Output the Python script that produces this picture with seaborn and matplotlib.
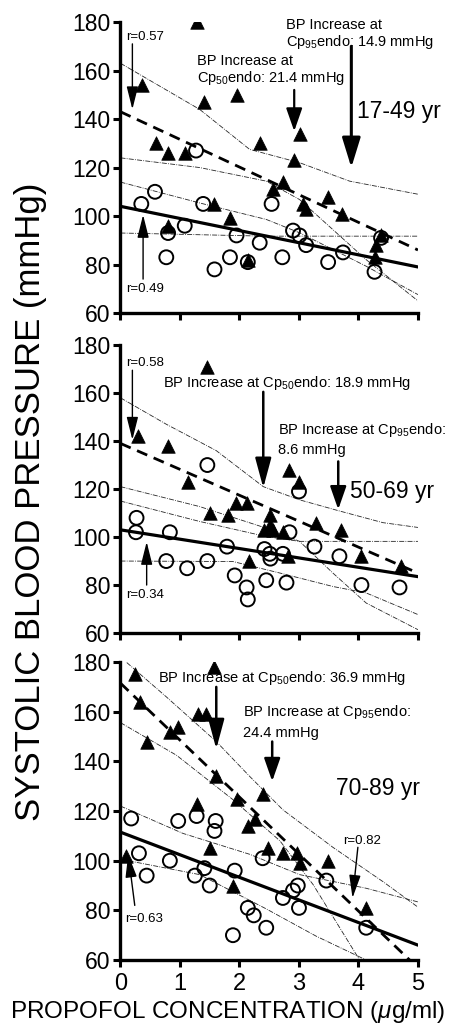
import matplotlib
matplotlib.use('Agg')
import matplotlib.pyplot as plt
import seaborn as sns

# ---- data ----
# panel 1 : 17-49 yr
p1_tri_x = [1.29, 0.36, 1.40, 1.95, 3.01, 0.59, 0.80, 1.08, 2.34, 2.92, 2.56, 2.73,
            3.49, 3.07, 3.12, 3.73, 1.58, 1.84, 0.80, 2.14, 4.38, 4.30, 4.27]
p1_tri_y = [180, 154, 147, 150, 134, 130, 126, 126, 130, 123, 111, 114,
            108, 105, 103, 101, 105, 99, 96, 82, 92, 88, 83]
p1_circ_x = [0.35, 0.58, 1.27, 0.80, 1.08, 0.77, 1.39, 1.58, 1.84, 1.95, 2.34, 2.14,
             2.72, 2.54, 2.90, 3.01, 3.12, 3.49, 3.74, 4.27, 4.38]
p1_circ_y = [105, 110, 127, 93, 96, 83, 105, 78, 83, 92, 89, 81,
             83, 105, 94, 92, 88, 81, 85, 77, 91]
p1_fit_x = [0, 5]
p1_fit_circ = [104, 79]
p1_fit_tri = [143, 86]
p1_ci = [
    ([0, 1.33, 2.17, 3.01, 3.85, 5], [163, 144, 127.5, 122, 114.4, 109]),
    ([0, 1.33, 2.45, 3.01, 3.57, 4.13, 5], [124, 120, 114.4, 106.8, 94.4, 82, 65]),
    ([0, 1.33, 2.45, 3.01, 4.13, 5], [114, 105.4, 98.6, 93.1, 79.3, 67.6]),
    ([0, 2.45, 5], [93, 91.7, 91.7]),
]

# panel 2 : 50-69 yr
p2_tri_x = [1.46, 0.30, 0.80, 1.14, 1.50, 1.81, 1.94, 2.12, 2.84, 3.00, 2.51, 2.51,
            2.42, 2.56, 2.73, 2.82, 2.16, 3.29, 3.71, 4.05, 4.72]
p2_tri_y = [171, 142, 138, 123, 110, 109, 114, 114, 128, 123, 109, 105,
            103, 103, 102, 92, 90, 106, 103, 92, 88]
p2_circ_x = [0.27, 0.26, 0.83, 0.77, 1.12, 1.46, 1.46, 1.79, 1.92, 2.12, 2.14, 2.45,
             2.79, 2.42, 2.51, 2.52, 2.73, 2.84, 3.00, 3.26, 3.68, 4.05, 4.69]
p2_circ_y = [108, 102, 102, 90, 87, 90, 130, 96, 84, 79, 74, 82,
             81, 95, 93, 91, 93, 102, 119, 96, 92, 80, 79]
p2_fit_x = [0, 5]
p2_fit_circ = [103, 83.5]
p2_fit_tri = [139, 85]
p2_ci = [
    ([0, 0.77, 1.61, 2.40, 3.01, 3.66, 4.41, 5], [158, 147, 136, 121, 115.5, 111, 106, 104]),
    ([0, 1.33, 2.45, 3.01, 3.57, 4.13, 5], [121, 112.7, 103.7, 98.2, 85, 72.5, 61.4]),
    ([0, 1.33, 2.45, 3.01, 5], [115, 106.5, 100.2, 98.2, 98.2]),
    ([0, 1.89, 2.68, 3.57, 4.13, 5], [90, 89.8, 85, 79.4, 76.7, 67.7]),
]

# panel 3 : 70-89 yr
p3_tri_x = [0.24, 0.32, 0.45, 0.83, 0.97, 1.30, 1.44, 1.58, 1.61, 1.95, 2.40, 2.26,
            2.15, 1.28, 1.50, 2.48, 2.73, 2.96, 3.01, 3.49, 1.89, 0.10, 4.13]
p3_tri_y = [175, 164, 148, 152, 154, 159, 159, 178, 134, 125, 127, 117,
            114, 123, 105, 105, 103, 103, 99, 100, 90, 102, 81]
p3_circ_x = [0.18, 0.31, 0.44, 0.83, 0.97, 1.28, 1.60, 1.58, 1.25, 1.41, 1.50, 1.92,
             2.14, 2.24, 2.45, 1.89, 2.39, 2.73, 2.90, 2.98, 3.00, 3.46, 4.13]
p3_circ_y = [117, 103, 94, 100, 116, 118, 116, 112, 94, 97, 90, 96,
             81, 78, 73, 70, 101, 85, 88, 90, 81, 92, 73]
p3_fit_x = [0, 5]
p3_fit_circ = [111.5, 66]
p3_fit_tri_x = [0, 4.86]
p3_fit_tri = [171.5, 60]
p3_ci = [
    ([0, 0.77, 1.61, 2.17, 2.73, 3.57, 4.41, 5], [182, 166, 148, 134, 120.5, 105.4, 91.6, 81.3]),
    ([0, 0.94, 1.89, 2.68, 3.24, 4.02], [155.6, 142.5, 124.6, 108, 90.3, 60]),
    ([0, 1.05, 2.17, 3.01, 4.13, 5], [122, 111, 102.6, 94.4, 88.9, 83.4]),
    ([0, 1.33, 2.45, 3.29, 4.13], [100.6, 94.4, 80.6, 69.6, 60]),
]

age_labels = ['17-49 yr', '50-69 yr', '70-89 yr']
x_ticks = [0, 1, 2, 3, 4, 5]
y_ticks = [60, 80, 100, 120, 140, 160, 180]

sns.set_style('ticks')
plt.rcParams['font.family'] = ['Liberation Sans', 'DejaVu Sans']
plt.rcParams['mathtext.fontset'] = 'custom'
plt.rcParams['mathtext.rm'] = 'Liberation Sans'
plt.rcParams['mathtext.it'] = 'Liberation Sans:italic'
plt.rcParams['text.color'] = 'black'
plt.rcParams['axes.edgecolor'] = 'black'
plt.rcParams['xtick.color'] = 'black'
plt.rcParams['ytick.color'] = 'black'

fig = plt.figure(figsize=(4.55, 10.26), dpi=100)
left, width = 0.2648, 0.6538
ax1 = fig.add_axes([left, 0.6949, width, 0.2836])
ax2 = fig.add_axes([left, 0.3830, width, 0.2807])
ax3 = fig.add_axes([left, 0.0643, width, 0.2904])


def arrow(ax, tail, tip, lw=1.0, hw=0.25, hl=1.0):
    ax.annotate('', xy=tip, xytext=tail,
                arrowprops=dict(arrowstyle=f'-|>,head_length={hl},head_width={hw}',
                                color='k', lw=lw, shrinkA=0, shrinkB=0,
                                mutation_scale=14))


def draw_panel(ax, tri_x, tri_y, circ_x, circ_y, fit_circ_x, fit_circ, fit_tri_x, fit_tri, ci):
    for cx, cy in ci:
        sns.lineplot(x=cx, y=cy, ax=ax, color='0.15', lw=0.6, ls=(0, (6, 1.5, 1, 1.5)))
    sns.lineplot(x=fit_circ_x, y=fit_circ, ax=ax, color='k', lw=2.3)
    sns.lineplot(x=fit_tri_x, y=fit_tri, ax=ax, color='k', lw=2.0, ls=(0, (4, 2.5)))
    sns.scatterplot(x=circ_x, y=circ_y, ax=ax, marker='o', s=100,
                    facecolors='none', edgecolors='k', linewidth=1.4, zorder=3)
    sns.scatterplot(x=tri_x, y=tri_y, ax=ax, marker='^', s=95,
                    color='k', edgecolor='k', linewidth=0.5, zorder=4)
    ax.set_xlim(0, 5)
    ax.set_ylim(60, 180)
    ax.set_xticks(x_ticks)
    ax.set_yticks(y_ticks)
    ax.tick_params(axis='both', direction='out', length=5, width=2.2, labelsize=16.5, pad=2)
    for side in ['left', 'bottom']:
        ax.spines[side].set_linewidth(2.4)
    sns.despine(ax=ax)


draw_panel(ax1, p1_tri_x, p1_tri_y, p1_circ_x, p1_circ_y, p1_fit_x, p1_fit_circ, p1_fit_x, p1_fit_tri, p1_ci)
draw_panel(ax2, p2_tri_x, p2_tri_y, p2_circ_x, p2_circ_y, p2_fit_x, p2_fit_circ, p2_fit_x, p2_fit_tri, p2_ci)
draw_panel(ax3, p3_tri_x, p3_tri_y, p3_circ_x, p3_circ_y, p3_fit_x, p3_fit_circ, p3_fit_tri_x, p3_fit_tri, p3_ci)

ax1.set_xticklabels([])
ax2.set_xticklabels([])
ax3.tick_params(axis='x', labelsize=17, pad=4)

# panel 1 annotations
ax1.text(0.1, 174, 'r=0.57', fontsize=9.5, va='center')
arrow(ax1, (0.2, 171), (0.2, 144))
ax1.text(0.1, 70, 'r=0.49', fontsize=9.5, va='center')
arrow(ax1, (0.38, 74), (0.38, 100.5))
ax1.text(1.28, 160, 'BP Increase at\nCp$_{50}$endo: 21.4 mmHg', fontsize=10.5, va='center', linespacing=1.1)
arrow(ax1, (2.92, 152), (2.92, 135), lw=1.6, hw=0.35)
ax1.text(2.79, 175, 'BP Increase at\nCp$_{95}$endo: 14.9 mmHg', fontsize=10.5, va='center', linespacing=1.1)
arrow(ax1, (3.88, 170), (3.88, 120), lw=2.2, hw=0.4, hl=1.3)
ax1.text(3.97, 143, age_labels[0], fontsize=16.5, va='center')

# panel 2 annotations
ax2.text(0.1, 172.5, 'r=0.58', fontsize=9.5, va='center')
arrow(ax2, (0.2, 169.5), (0.2, 140.5))
ax2.text(0.1, 76, 'r=0.34', fontsize=9.5, va='center')
arrow(ax2, (0.44, 80), (0.44, 98))
ax2.text(0.72, 164, 'BP Increase at Cp$_{50}$endo: 18.9 mmHg', fontsize=10.5, va='center')
arrow(ax2, (2.40, 160.5), (2.40, 120.5), lw=1.8, hw=0.35, hl=1.3)
ax2.text(2.65, 144.5, 'BP Increase at Cp$_{95}$endo:', fontsize=10.5, va='center')
ax2.text(2.65, 136.3, '8.6 mmHg', fontsize=10.5, va='center')
arrow(ax2, (3.66, 131.5), (3.66, 111.5), lw=1.8, hw=0.35)
ax2.text(3.85, 119, age_labels[1], fontsize=16.5, va='center')

# panel 3 annotations
ax3.text(0.63, 173.5, 'BP Increase at Cp$_{50}$endo: 36.9 mmHg', fontsize=10.5, va='center')
arrow(ax3, (1.61, 170), (1.61, 145), lw=1.8, hw=0.35, hl=1.3)
ax3.text(2.06, 159.7, 'BP Increase at Cp$_{95}$endo:', fontsize=10.5, va='center')
ax3.text(2.06, 151.5, '24.4 mmHg', fontsize=10.5, va='center')
arrow(ax3, (2.55, 148), (2.55, 132), lw=1.8, hw=0.35)
ax3.text(3.63, 129, age_labels[2], fontsize=16.5, va='center')
ax3.text(3.74, 108, 'r=0.82', fontsize=9.5, va='center')
arrow(ax3, (3.99, 105.4), (3.90, 85))
ax3.text(0.07, 76.5, 'r=0.63', fontsize=9.5, va='center')
arrow(ax3, (0.24, 82), (0.13, 102.5))

fig.text(0.068, 0.511, 'SYSTOLIC BLOOD PRESSURE (mmHg)', rotation=90,
         fontsize=25, ha='center', va='center')
fig.text(0.5, 0.0136, 'PROPOFOL CONCENTRATION ($\\mu$g/ml)', fontsize=17.5,
         ha='center', va='center')

fig.savefig('out.png', dpi=100)
